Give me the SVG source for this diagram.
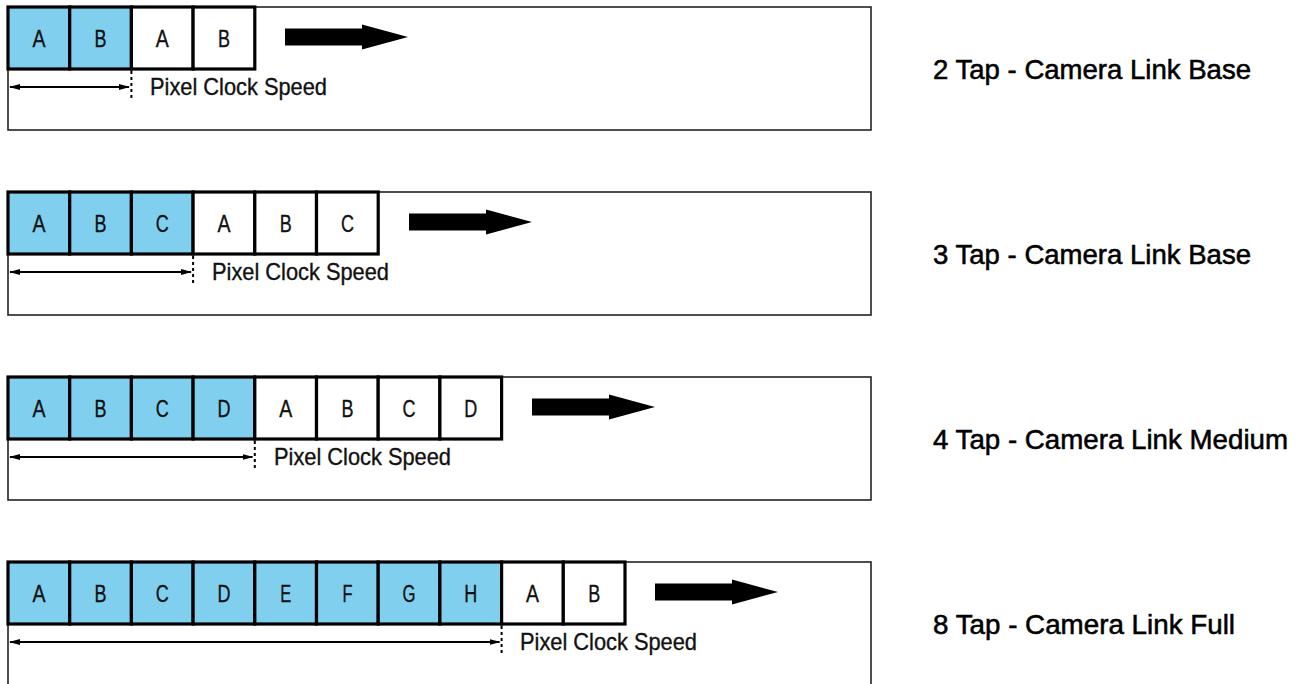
<svg xmlns="http://www.w3.org/2000/svg" width="1304" height="684" viewBox="0 0 1304 684">
  <style>
    .frame { fill: #ffffff; stroke: #222222; stroke-width: 1.6; }
    .cell { stroke: #000000; stroke-width: 3.2; }
    .tap { fill: #80cfef; }
    .out { fill: #ffffff; }
    .lbl { font-family: "Liberation Sans", Arial, sans-serif; font-size: 23px; fill: #111111; stroke: #111111; stroke-width: 0.35; text-anchor: middle; }
    .pcs { font-family: "Liberation Sans", Arial, sans-serif; font-size: 24px; fill: #111111; stroke: #111111; stroke-width: 0.35; }
    .title { font-family: "Liberation Sans", Arial, sans-serif; font-size: 28px; fill: #000000; stroke: #000000; stroke-width: 0.55; }
    .dim { stroke: #000000; stroke-width: 2; fill: none; marker-start: url(#tipL); marker-end: url(#tipR); }
    .tick { stroke: #000000; stroke-width: 2; stroke-dasharray: 3 3; }
    .flow { fill: #000000; }
  </style>
  <defs>
    <marker id="tipR" markerWidth="11" markerHeight="8" refX="10" refY="4" orient="auto" markerUnits="userSpaceOnUse">
      <path d="M0,1 L11,4 L0,7 Z" fill="#000"/>
    </marker>
    <marker id="tipL" markerWidth="11" markerHeight="8" refX="1" refY="4" orient="auto" markerUnits="userSpaceOnUse">
      <path d="M11,1 L0,4 L11,7 Z" fill="#000"/>
    </marker>
    <polygon id="flowArrow" class="flow" points="0,-8.5 77,-8.5 77,-12.5 123,0 77,12.5 77,8.5 0,8.5"/>
  </defs>

  <!-- 2 tap -->
  <g id="tap2" transform="translate(0,7)">
    <rect class="frame" x="8" y="0" width="863" height="123"/>
    <rect class="cell tap" x="8" y="0" width="61.7" height="62"/>
    <rect class="cell tap" x="69.7" y="0" width="61.7" height="62"/>
    <rect class="cell out" x="131.4" y="0" width="61.7" height="62"/>
    <rect class="cell out" x="193.1" y="0" width="61.7" height="62"/>
    <text class="lbl" x="38.9" y="40" textLength="13" lengthAdjust="spacingAndGlyphs">A</text>
    <text class="lbl" x="100.6" y="40" textLength="12" lengthAdjust="spacingAndGlyphs">B</text>
    <text class="lbl" x="162.3" y="40" textLength="13" lengthAdjust="spacingAndGlyphs">A</text>
    <text class="lbl" x="224" y="40" textLength="12" lengthAdjust="spacingAndGlyphs">B</text>
    <use href="#flowArrow" x="285" y="30"/>
    <line class="dim" x1="10" y1="80" x2="129" y2="80"/>
    <line class="tick" x1="131.4" y1="64" x2="131.4" y2="94"/>
    <text class="pcs" x="150" y="88" textLength="177" lengthAdjust="spacingAndGlyphs">Pixel Clock Speed</text>
    <text class="title" x="933" y="72" textLength="318" lengthAdjust="spacingAndGlyphs">2 Tap - Camera Link Base</text>
  </g>

  <!-- 3 tap -->
  <g id="tap3" transform="translate(0,192)">
    <rect class="frame" x="8" y="0" width="863" height="123"/>
    <rect class="cell tap" x="8" y="0" width="61.7" height="62"/>
    <rect class="cell tap" x="69.7" y="0" width="61.7" height="62"/>
    <rect class="cell tap" x="131.4" y="0" width="61.7" height="62"/>
    <rect class="cell out" x="193.1" y="0" width="61.7" height="62"/>
    <rect class="cell out" x="254.8" y="0" width="61.7" height="62"/>
    <rect class="cell out" x="316.5" y="0" width="61.7" height="62"/>
    <text class="lbl" x="38.9" y="40" textLength="13" lengthAdjust="spacingAndGlyphs">A</text>
    <text class="lbl" x="100.6" y="40" textLength="12" lengthAdjust="spacingAndGlyphs">B</text>
    <text class="lbl" x="162.3" y="40" textLength="13" lengthAdjust="spacingAndGlyphs">C</text>
    <text class="lbl" x="224" y="40" textLength="13" lengthAdjust="spacingAndGlyphs">A</text>
    <text class="lbl" x="285.7" y="40" textLength="12" lengthAdjust="spacingAndGlyphs">B</text>
    <text class="lbl" x="347.4" y="40" textLength="13" lengthAdjust="spacingAndGlyphs">C</text>
    <use href="#flowArrow" x="409" y="30"/>
    <line class="dim" x1="10" y1="80" x2="191" y2="80"/>
    <line class="tick" x1="193.1" y1="64" x2="193.1" y2="94"/>
    <text class="pcs" x="212" y="88" textLength="177" lengthAdjust="spacingAndGlyphs">Pixel Clock Speed</text>
    <text class="title" x="933" y="72" textLength="318" lengthAdjust="spacingAndGlyphs">3 Tap - Camera Link Base</text>
  </g>

  <!-- 4 tap -->
  <g id="tap4" transform="translate(0,377)">
    <rect class="frame" x="8" y="0" width="863" height="123"/>
    <rect class="cell tap" x="8" y="0" width="61.7" height="62"/>
    <rect class="cell tap" x="69.7" y="0" width="61.7" height="62"/>
    <rect class="cell tap" x="131.4" y="0" width="61.7" height="62"/>
    <rect class="cell tap" x="193.1" y="0" width="61.7" height="62"/>
    <rect class="cell out" x="254.8" y="0" width="61.7" height="62"/>
    <rect class="cell out" x="316.5" y="0" width="61.7" height="62"/>
    <rect class="cell out" x="378.2" y="0" width="61.7" height="62"/>
    <rect class="cell out" x="439.9" y="0" width="61.7" height="62"/>
    <text class="lbl" x="38.9" y="40" textLength="13" lengthAdjust="spacingAndGlyphs">A</text>
    <text class="lbl" x="100.6" y="40" textLength="12" lengthAdjust="spacingAndGlyphs">B</text>
    <text class="lbl" x="162.3" y="40" textLength="13" lengthAdjust="spacingAndGlyphs">C</text>
    <text class="lbl" x="224" y="40" textLength="13" lengthAdjust="spacingAndGlyphs">D</text>
    <text class="lbl" x="285.7" y="40" textLength="13" lengthAdjust="spacingAndGlyphs">A</text>
    <text class="lbl" x="347.4" y="40" textLength="12" lengthAdjust="spacingAndGlyphs">B</text>
    <text class="lbl" x="409.1" y="40" textLength="13" lengthAdjust="spacingAndGlyphs">C</text>
    <text class="lbl" x="470.8" y="40" textLength="13" lengthAdjust="spacingAndGlyphs">D</text>
    <use href="#flowArrow" x="532" y="30"/>
    <line class="dim" x1="10" y1="80" x2="252.5" y2="80"/>
    <line class="tick" x1="254.8" y1="64" x2="254.8" y2="94"/>
    <text class="pcs" x="274" y="88" textLength="177" lengthAdjust="spacingAndGlyphs">Pixel Clock Speed</text>
    <text class="title" x="933" y="72" textLength="355" lengthAdjust="spacingAndGlyphs">4 Tap - Camera Link Medium</text>
  </g>

  <!-- 8 tap -->
  <g id="tap8" transform="translate(0,562)">
    <rect class="frame" x="8" y="0" width="863" height="123"/>
    <rect class="cell tap" x="8" y="0" width="61.7" height="62"/>
    <rect class="cell tap" x="69.7" y="0" width="61.7" height="62"/>
    <rect class="cell tap" x="131.4" y="0" width="61.7" height="62"/>
    <rect class="cell tap" x="193.1" y="0" width="61.7" height="62"/>
    <rect class="cell tap" x="254.8" y="0" width="61.7" height="62"/>
    <rect class="cell tap" x="316.5" y="0" width="61.7" height="62"/>
    <rect class="cell tap" x="378.2" y="0" width="61.7" height="62"/>
    <rect class="cell tap" x="439.9" y="0" width="61.7" height="62"/>
    <rect class="cell out" x="501.6" y="0" width="61.7" height="62"/>
    <rect class="cell out" x="563.3" y="0" width="61.7" height="62"/>
    <text class="lbl" x="38.9" y="40" textLength="13" lengthAdjust="spacingAndGlyphs">A</text>
    <text class="lbl" x="100.6" y="40" textLength="12" lengthAdjust="spacingAndGlyphs">B</text>
    <text class="lbl" x="162.3" y="40" textLength="13" lengthAdjust="spacingAndGlyphs">C</text>
    <text class="lbl" x="224" y="40" textLength="13" lengthAdjust="spacingAndGlyphs">D</text>
    <text class="lbl" x="285.7" y="40" textLength="11" lengthAdjust="spacingAndGlyphs">E</text>
    <text class="lbl" x="347.4" y="40" textLength="10" lengthAdjust="spacingAndGlyphs">F</text>
    <text class="lbl" x="409.1" y="40" textLength="13" lengthAdjust="spacingAndGlyphs">G</text>
    <text class="lbl" x="470.8" y="40" textLength="13" lengthAdjust="spacingAndGlyphs">H</text>
    <text class="lbl" x="532.5" y="40" textLength="13" lengthAdjust="spacingAndGlyphs">A</text>
    <text class="lbl" x="594.2" y="40" textLength="12" lengthAdjust="spacingAndGlyphs">B</text>
    <use href="#flowArrow" x="655" y="30"/>
    <line class="dim" x1="10" y1="80" x2="499.5" y2="80"/>
    <line class="tick" x1="501.6" y1="64" x2="501.6" y2="94"/>
    <text class="pcs" x="520" y="88" textLength="177" lengthAdjust="spacingAndGlyphs">Pixel Clock Speed</text>
    <text class="title" x="933" y="72" textLength="302" lengthAdjust="spacingAndGlyphs">8 Tap - Camera Link Full</text>
  </g>
</svg>
